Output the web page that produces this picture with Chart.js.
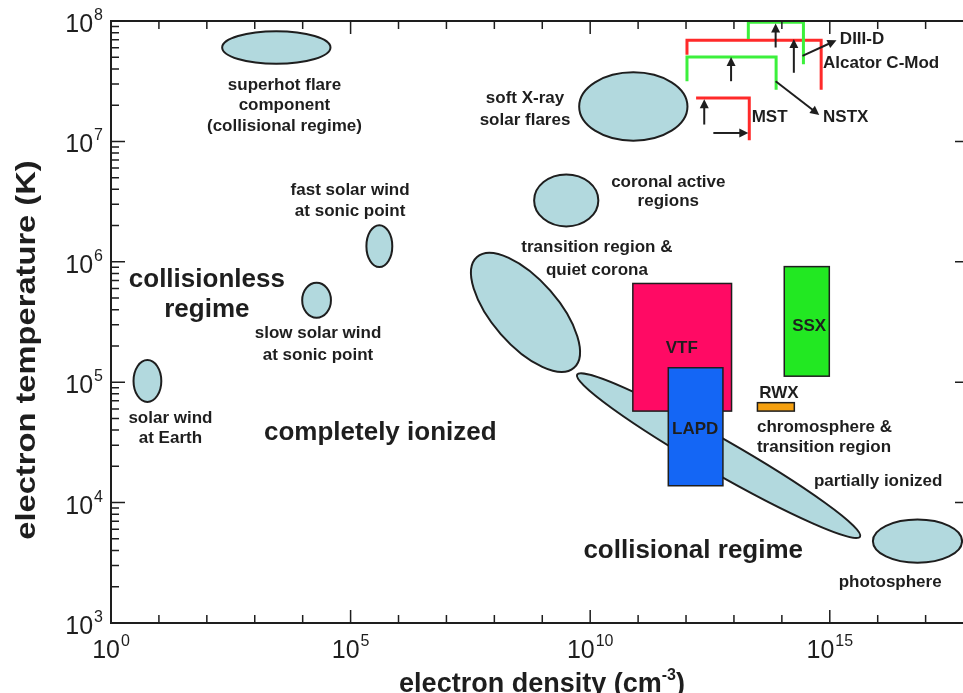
<!DOCTYPE html>
<html>
<head>
<meta charset="utf-8">
<script src="https://cdn.jsdelivr.net/npm/chart.js@4.4.1/dist/chart.umd.min.js"></script>
<style>
  html, body { margin: 0; padding: 0; background: #fff; }
</style>
</head>
<body>
<canvas id="plasma-chart" width="963" height="693"></canvas>
<script>
/* plasma parameter space — log n_e vs log T_e */

// axis ranges, in decades
const xTickExps = [0, 5, 10, 15];
const yTickExps = [3, 4, 5, 6, 7, 8];
const X_MAX_EXP = 17.78;

// natural plasmas (ellipses), centre + two half-axis vectors, all in decades
const regionNames = ['solar wind at Earth', 'slow solar wind', 'fast solar wind', 'superhot flare',
  'soft X-ray flares', 'coronal active regions', 'transition region & quiet corona',
  'chromosphere & transition region', 'photosphere'];
const regionLogN = [0.76, 4.29, 5.60, 3.45, 10.90, 9.50, 8.65, 12.68, 16.83];
const regionLogT = [5.01, 5.68, 6.13, 7.78, 7.29, 6.51, 5.58, 4.39, 3.68];
const regionAxisA = [[0.29, 0], [0.30, 0], [0.27, 0], [1.13, 0], [1.13, 0], [0.67, 0],
  [1.012, -0.460], [2.952, -0.673], [0.93, 0]];
const regionAxisB = [[0, 0.174], [0, 0.145], [0, 0.174], [0, 0.135], [0, 0.284], [0, 0.216],
  [0.517, 0.180], [0.176, 0.1225], [0, 0.179]];

// laboratory experiments (boxes), [low, high] in decades
const boxNames = ['VTF', 'LAPD', 'SSX', 'RWX'];
const boxLogN = [[10.89, 12.95], [11.63, 12.77], [14.05, 14.99], [13.49, 14.26]];
const boxLogT = [[4.76, 5.82], [4.14, 5.12], [5.05, 5.96], [4.76, 4.83]];

// fusion devices (open step outlines)
const stepNames = ['DIII-D', 'Alcator C-Mod', 'NSTX', 'MST'];
const stepLogN = [[13.30, 13.30, 14.45, 14.45], [12.02, 12.02, 14.82, 14.82],
  [12.02, 12.02, 13.88, 13.88], [12.21, 13.32, 13.32]];
const stepLogT = [[7.85, 7.99, 7.99, 7.64], [7.72, 7.84, 7.84, 7.43],
  [7.50, 7.70, 7.70, 7.43], [7.36, 7.36, 7.01]];

// arrows, [logN, logT] from -> to
const arrowFrom = [[13.87, 7.78], [14.25, 7.57], [12.94, 7.50], [12.38, 7.14], [12.57, 7.07],
  [14.43, 7.71], [13.87, 7.50]];
const arrowTo = [[13.87, 7.98], [14.25, 7.85], [12.94, 7.70], [12.38, 7.35], [13.30, 7.07],
  [15.14, 7.84], [14.78, 7.22]];

// styling
const FONT = '"Liberation Sans", Arial, Helvetica, sans-serif';
const INK = '#1e1e1e';
const regionFill = '#b2d9de';
const boxColors = ['#ff0a64', '#1466f5', '#22e822', '#f5a00f'];
const stepColors = ['#3cf03c', '#ff2a2a', '#3cf03c', '#ff2a2a'];

// text annotations: text, logN, logT, align, size
const notes = [
  ['superhot flare', 3.62, 7.468, 'center', 17],
  ['component', 3.62, 7.302, 'center', 17],
  ['(collisional regime)', 3.62, 7.122, 'center', 17],
  ['fast solar wind', 4.99, 6.591, 'center', 17],
  ['at sonic point', 4.99, 6.416, 'center', 17],
  ['soft X-ray', 8.64, 7.36, 'center', 17],
  ['solar flares', 8.64, 7.178, 'center', 17],
  ['coronal active', 11.63, 6.657, 'center', 17],
  ['regions', 11.63, 6.499, 'center', 17],
  ['transition region &', 10.14, 6.123, 'center', 17],
  ['quiet corona', 10.14, 5.932, 'center', 17],
  ['collisionless', 2.0, 5.849, 'center', 26],
  ['regime', 2.0, 5.60, 'center', 26],
  ['slow solar wind', 4.32, 5.409, 'center', 17],
  ['at sonic point', 4.32, 5.226, 'center', 17],
  ['solar wind', 1.24, 4.703, 'center', 17],
  ['at Earth', 1.24, 4.537, 'center', 17],
  ['completely ionized', 5.62, 4.578, 'center', 26],
  ['collisional regime', 12.15, 3.598, 'center', 26],
  ['chromosphere &', 13.48, 4.622, 'left', 17],
  ['transition region', 13.48, 4.456, 'left', 17],
  ['partially ionized', 14.67, 4.179, 'left', 17],
  ['photosphere', 16.26, 3.34, 'center', 17],
  ['VTF', 11.91, 5.282, 'center', 17],
  ['SSX', 14.57, 5.467, 'center', 17],
  ['RWX', 13.94, 4.908, 'center', 17],
  ['LAPD', 12.19, 4.611, 'center', 17],
  ['DIII-D', 15.21, 7.851, 'left', 17],
  ['Alcator C-Mod', 14.86, 7.649, 'left', 17],
  ['MST', 13.37, 7.20, 'left', 17],
  ['NSTX', 14.86, 7.20, 'left', 17]
];

function drawPower(ctx, exp, x, y, align) {
  const base = '10', sup = String(exp);
  ctx.font = `25px ${FONT}`;
  const w1 = ctx.measureText(base).width;
  ctx.font = `16px ${FONT}`;
  const w2 = ctx.measureText(sup).width;
  const left = align === 'right' ? x - w1 - w2 - 1 : x - (w1 + w2 + 1) / 2;
  ctx.textAlign = 'left';
  ctx.textBaseline = 'alphabetic';
  ctx.font = `25px ${FONT}`;
  ctx.fillText(base, left, y);
  ctx.font = `16px ${FONT}`;
  ctx.fillText(sup, left + w1 + 1, y - 12);
}

function arrow(ctx, x0, y0, x1, y1) {
  const ang = Math.atan2(y1 - y0, x1 - x0);
  const len = 9, half = 4.5;
  ctx.beginPath();
  ctx.moveTo(x0, y0);
  ctx.lineTo(x1 - Math.cos(ang) * len * 0.8, y1 - Math.sin(ang) * len * 0.8);
  ctx.stroke();
  ctx.beginPath();
  ctx.moveTo(x1, y1);
  ctx.lineTo(x1 - Math.cos(ang) * len - Math.sin(ang) * half, y1 - Math.sin(ang) * len + Math.cos(ang) * half);
  ctx.lineTo(x1 - Math.cos(ang) * len + Math.sin(ang) * half, y1 - Math.sin(ang) * len - Math.cos(ang) * half);
  ctx.closePath();
  ctx.fill();
}

const plasmaDrawing = {
  id: 'plasmaDrawing',
  beforeDatasetsDraw(chart) {
    const { ctx, chartArea: a, scales: { x, y } } = chart;
    const px = e => x.getPixelForValue(10 ** e);
    const py = e => y.getPixelForValue(10 ** e);
    ctx.save();
    ctx.beginPath();
    ctx.rect(a.left, a.top, a.right - a.left, a.bottom - a.top);
    ctx.clip();

    // ellipses
    ctx.fillStyle = regionFill;
    ctx.strokeStyle = INK;
    ctx.lineWidth = 2;
    regionNames.forEach((name, i) => {
      const cx = px(regionLogN[i]), cy = py(regionLogT[i]);
      const ax = px(regionLogN[i] + regionAxisA[i][0]) - cx;
      const ay = py(regionLogT[i] + regionAxisA[i][1]) - cy;
      const bx = px(regionLogN[i] + regionAxisB[i][0]) - cx;
      const by = py(regionLogT[i] + regionAxisB[i][1]) - cy;
      ctx.beginPath();
      ctx.ellipse(cx, cy, Math.hypot(ax, ay), Math.hypot(bx, by), Math.atan2(ay, ax), 0, Math.PI * 2);
      ctx.fill();
      ctx.stroke();
    });

    // experiment boxes
    ctx.lineWidth = 1.5;
    boxNames.forEach((name, i) => {
      const x0 = px(boxLogN[i][0]), x1 = px(boxLogN[i][1]);
      const y0 = py(boxLogT[i][1]), y1 = py(boxLogT[i][0]);
      ctx.fillStyle = boxColors[i];
      ctx.fillRect(x0, y0, x1 - x0, y1 - y0);
      ctx.strokeRect(x0, y0, x1 - x0, y1 - y0);
    });
    ctx.restore();
  },
  afterDatasetsDraw(chart) {
    const { ctx, chartArea: a, scales: { x, y } } = chart;
    const px = e => x.getPixelForValue(10 ** e);
    const py = e => y.getPixelForValue(10 ** e);
    ctx.save();

    // arrows
    ctx.strokeStyle = INK;
    ctx.fillStyle = INK;
    ctx.lineWidth = 2;
    arrowFrom.forEach((f, i) => {
      arrow(ctx, px(f[0]), py(f[1]), px(arrowTo[i][0]), py(arrowTo[i][1]));
    });

    // labels
    ctx.textBaseline = 'middle';
    notes.forEach(([text, n, t, align, size]) => {
      ctx.font = `bold ${size}px ${FONT}`;
      ctx.textAlign = align;
      ctx.fillText(text, px(n), py(t));
    });

    // frame (right edge falls off the picture)
    ctx.lineWidth = 2;
    ctx.beginPath();
    ctx.moveTo(a.right, a.top);
    ctx.lineTo(a.left, a.top);
    ctx.lineTo(a.left, a.bottom);
    ctx.lineTo(a.right, a.bottom);
    ctx.stroke();

    // ticks
    ctx.lineWidth = 1.5;
    ctx.beginPath();
    for (let d = 3; d <= 8; d++) {
      const yy = py(d);
      ctx.moveTo(a.left, yy); ctx.lineTo(a.left + 14, yy);
      ctx.moveTo(a.right, yy); ctx.lineTo(a.right - 8, yy);
      if (d < 8) {
        for (let m = 2; m <= 9; m++) {
          const ym = y.getPixelForValue(m * 10 ** d);
          ctx.moveTo(a.left, ym); ctx.lineTo(a.left + 8, ym);
        }
      }
    }
    for (let d = 1; d <= Math.floor(X_MAX_EXP); d++) {
      const xx = px(d);
      const len = d % 5 === 0 ? 13 : 8;
      ctx.moveTo(xx, a.bottom); ctx.lineTo(xx, a.bottom - len);
      ctx.moveTo(xx, a.top); ctx.lineTo(xx, a.top + len);
    }
    ctx.stroke();

    // tick labels
    ctx.fillStyle = INK;
    yTickExps.forEach(e => drawPower(ctx, e, 103, py(e) + 11, 'right'));
    xTickExps.forEach(e => drawPower(ctx, e, px(e), 658, 'center'));

    // axis titles (the y title is drawn stretched along its length, as in the source figure)
    ctx.font = `bold 27px ${FONT}`;
    ctx.textBaseline = 'middle';
    ctx.textAlign = 'center';
    ctx.save();
    ctx.translate(28, 350);
    ctx.rotate(-Math.PI / 2);
    ctx.scale(1.21, 1);
    ctx.fillText('electron temperature (K)', 0, 0);
    ctx.restore();

    const t1 = 'electron density (cm', t2 = '-3', t3 = ')';
    ctx.font = `bold 27px ${FONT}`;
    const w1 = ctx.measureText(t1).width, w3 = ctx.measureText(t3).width;
    ctx.font = `bold 16px ${FONT}`;
    const w2 = ctx.measureText(t2).width;
    const left = 542 - (w1 + w2 + w3) / 2;
    ctx.textAlign = 'left';
    ctx.textBaseline = 'alphabetic';
    ctx.font = `bold 27px ${FONT}`;
    ctx.fillText(t1, left, 692);
    ctx.font = `bold 16px ${FONT}`;
    ctx.fillText(t2, left + w1, 680);
    ctx.font = `bold 27px ${FONT}`;
    ctx.fillText(t3, left + w1 + w2, 692);
    ctx.restore();
  }
};

const canvas = document.getElementById('plasma-chart');
new Chart(canvas.getContext('2d'), {
  type: 'scatter',
  data: {
    datasets: stepNames.map((name, i) => ({
      label: name,
      data: stepLogN[i].map((n, k) => ({ x: 10 ** n, y: 10 ** stepLogT[i][k] })),
      showLine: true,
      borderColor: stepColors[i],
      borderWidth: 3,
      pointRadius: 0,
      fill: false,
      tension: 0
    }))
  },
  options: {
    responsive: false,
    animation: false,
    layout: { padding: { left: 111, top: 21, right: 0, bottom: 70 } },
    plugins: { legend: { display: false }, tooltip: { enabled: false } },
    scales: {
      x: { type: 'logarithmic', min: 1, max: 10 ** X_MAX_EXP, display: false },
      y: { type: 'logarithmic', min: 1e3, max: 1e8, display: false }
    }
  },
  plugins: [plasmaDrawing]
});
</script>
</body>
</html>
